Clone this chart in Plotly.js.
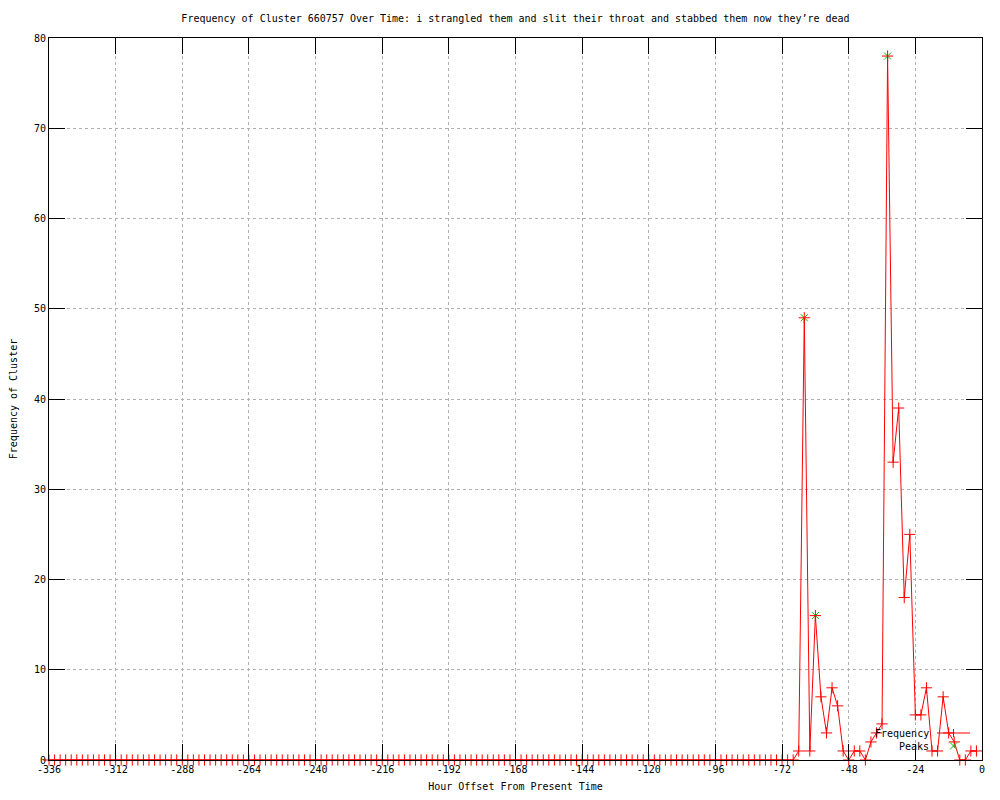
<!DOCTYPE html>
<html>
<head>
<meta charset="utf-8">
<script src="https://cdn.plot.ly/plotly-3.0.1.min.js"></script>
<style>html,body{margin:0;padding:0;background:#fff;}#chart{width:1000px;height:800px;}</style>
</head>
<body>
<div id="chart"></div>
<script>
// Hour offsets of the samples (every 2 hours, -336 .. -2)
var hours = [];
for (var h = -336; h <= -2; h += 2) hours.push(h);

// Frequency of cluster per sample
var freq = [
  0,0,0,0,0,0,0,0,0,0,0,0,0,0,0,0,0,0,0,0,
  0,0,0,0,0,0,0,0,0,0,0,0,0,0,0,0,0,0,0,0,
  0,0,0,0,0,0,0,0,0,0,0,0,0,0,0,0,0,0,0,0,
  0,0,0,0,0,0,0,0,0,0,0,0,0,0,0,0,0,0,0,0,
  0,0,0,0,0,0,0,0,0,0,0,0,0,0,0,0,0,0,0,0,
  0,0,0,0,0,0,0,0,0,0,0,0,0,0,0,0,0,0,0,0,
  0,0,0,0,0,0,0,0,0,0,0,0,0,0,
  0,1,49,1,16,7,3,8,6,1,0,1,1,0,2,3,4,78,33,39,18,25,5,5,8,1,1,7,3,2,0,0,1,1
];

// Detected peaks
var peakHours = [-64, -60, -34];
var peakFreq = [49, 16, 78];

// Axis ticks
var xTickVals = [-336,-312,-288,-264,-240,-216,-192,-168,-144,-120,-96,-72,-48,-24,0];
var xTickText = ['-336','-312','-288','-264','-240','-216','-192','-168','-144','-120','-96','-72','-48','-24','0'];
var yTickVals = [0,10,20,30,40,50,60,70,80];

var titleText = 'Frequency of Cluster 660757 Over Time: i strangled them and slit their throat and stabbed them now they\u2019re dead';
var FONT = 'DejaVu Sans Mono, monospace';

var traces = [
  {
    x: peakHours, y: peakFreq, type: 'scatter', mode: 'markers', name: 'Peaks',
    marker: {symbol: 'x-thin-open', size: 7, color: '#00c000', line: {color: '#00c000', width: 1}},
    hoverinfo: 'skip', cliponaxis: false
  },
  {
    x: hours, y: freq, type: 'scatter', mode: 'lines+markers', name: 'Frequency',
    line: {color: '#ff0000', width: 1},
    marker: {symbol: 'cross-thin-open', size: 8, color: '#ff0000', line: {color: '#ff0000', width: 1}},
    hoverinfo: 'skip', cliponaxis: false
  }
];

// legend geometry in paper coordinates (plot area 933 x 722)
function px(x) { return (x - 49) / 933; }
function py(y) { return (760 - y) / 722; }

var shapes = [
  {type: 'line', xref: 'paper', yref: 'paper', x0: px(937), x1: px(970), y0: py(733), y1: py(733), line: {color: '#ff0000', width: 1}},
  {type: 'line', xref: 'paper', yref: 'paper', x0: px(953.5), x1: px(953.5), y0: py(729), y1: py(737), line: {color: '#ff0000', width: 1}},
  {type: 'line', xref: 'paper', yref: 'paper', x0: px(950), x1: px(957), y0: py(742.5), y1: py(749.5), line: {color: '#00c000', width: 1}},
  {type: 'line', xref: 'paper', yref: 'paper', x0: px(950), x1: px(957), y0: py(749.5), y1: py(742.5), line: {color: '#00c000', width: 1}}
];

var layout = {
  width: 1000, height: 800,
  margin: {l: 49, r: 18, t: 38, b: 40, pad: 0},
  paper_bgcolor: '#ffffff', plot_bgcolor: '#ffffff',
  showlegend: false,
  hovermode: false,
  font: {family: FONT, size: 10, color: '#000000'},
  title: {text: titleText, font: {family: FONT, size: 10, color: '#000000'}, x: 0.5155, xanchor: 'center', y: 0.9775, yanchor: 'middle'},
  xaxis: {
    range: [-336, 0], tickmode: 'array', tickvals: xTickVals, ticktext: xTickText,
    ticks: 'inside', ticklen: 16, tickcolor: '#000000', tickwidth: 1,
    showline: true, linecolor: '#000000', linewidth: 1, mirror: 'ticks',
    showgrid: true, gridcolor: '#b0b0b0', gridwidth: 1, griddash: '3px,3px',
    zeroline: false, tickfont: {family: FONT, size: 10, color: '#000000'},
    title: {text: 'Hour Offset From Present Time', font: {family: FONT, size: 10, color: '#000000'}, standoff: 8}
  },
  yaxis: {
    range: [0, 80], tickmode: 'array', tickvals: yTickVals,
    ticks: 'inside', ticklen: 16, tickcolor: '#000000', tickwidth: 1,
    showline: true, linecolor: '#000000', linewidth: 1, mirror: 'ticks',
    showgrid: true, gridcolor: '#b0b0b0', gridwidth: 1, griddash: '3px,3px',
    zeroline: false, tickfont: {family: FONT, size: 10, color: '#000000'},
    title: {text: 'Frequency of Cluster', font: {family: FONT, size: 10, color: '#000000'}, standoff: 14}
  },
  shapes: shapes,
  annotations: [
    {xref: 'paper', yref: 'paper', x: px(931), y: py(733), text: 'Frequency', showarrow: false, xanchor: 'right', yanchor: 'middle', font: {family: FONT, size: 10, color: '#000000'}},
    {xref: 'paper', yref: 'paper', x: px(931), y: py(746), text: 'Peaks', showarrow: false, xanchor: 'right', yanchor: 'middle', font: {family: FONT, size: 10, color: '#000000'}}
  ]
};

Plotly.newPlot('chart', traces, layout, {staticPlot: true, displayModeBar: false});
</script>
</body>
</html>
